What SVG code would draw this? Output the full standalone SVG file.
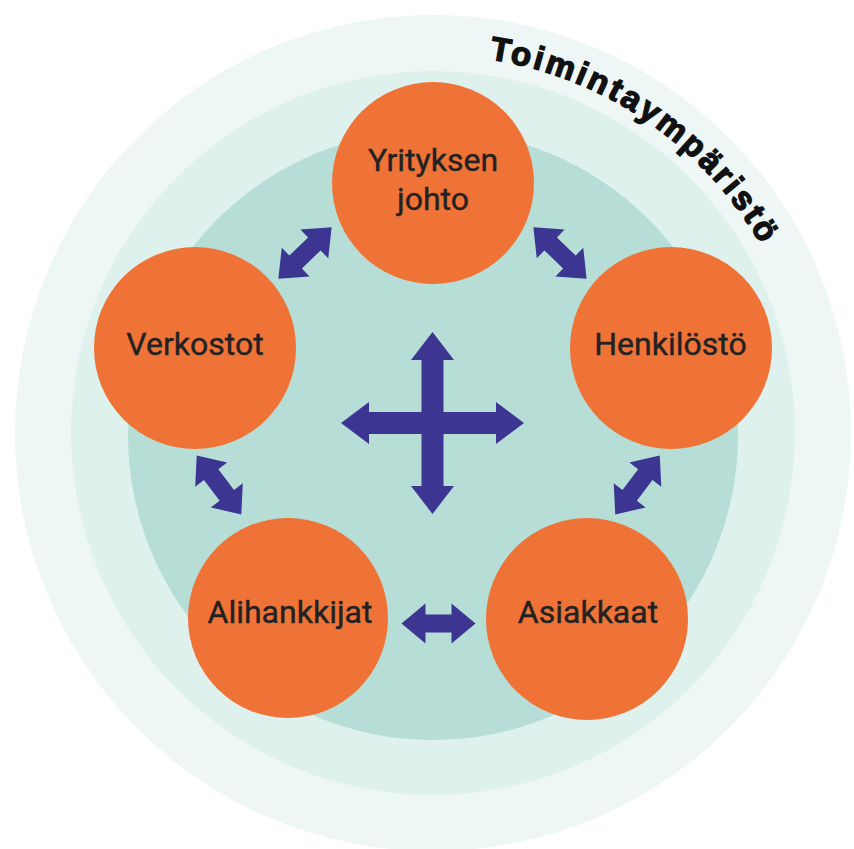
<svg xmlns="http://www.w3.org/2000/svg" width="854" height="849" viewBox="0 0 854 849">
  <style>
    .node { fill: #ef7337; }
    .label { font-family: Roboto, "Liberation Sans", sans-serif; font-weight: 400; font-size: 32px; fill: #222222; stroke: #222222; stroke-width: 0.4px; text-anchor: middle; }
    .arrow { fill: #3c3592; }
    .title { font-family: "Liberation Sans", Arial, sans-serif; font-weight: bold; font-size: 33px; fill: #111; stroke: #111; stroke-width: 1.4px; }
  </style>
  <defs>
    <path id="dbl" d="M -37 0 L -13 -20 L -13 -9 L 13 -9 L 13 -20 L 37 0 L 13 20 L 13 9 L -13 9 L -13 20 Z"/>
    <path id="titleArc" d="M 488.9 59.2 A 378 378 0 0 1 763.6 249.7"/>
  </defs>
  <rect width="854" height="849" fill="#ffffff"/>
  <g id="background">
    <circle cx="433" cy="433" r="418" fill="#eef7f6"/>
    <circle cx="433" cy="433" r="362" fill="#def1ed"/>
    <circle cx="433" cy="435" r="305" fill="#b6ded7"/>
  </g>
  <g id="title">
    <text class="title"><textPath href="#titleArc" textLength="340" lengthAdjust="spacing">Toimintaympäristö</textPath></text>
  </g>
  <g id="connectors">
    <use href="#dbl" class="arrow" transform="translate(305 253) rotate(-44)"/>
    <use href="#dbl" class="arrow" transform="translate(560 253) rotate(44)"/>
    <use href="#dbl" class="arrow" transform="translate(219 485) rotate(53)"/>
    <use href="#dbl" class="arrow" transform="translate(637.5 485) rotate(-53)"/>
    <use href="#dbl" class="arrow" transform="translate(438.5 623.5)"/>
    <path class="arrow" d="M 432.5 332 L 454 360 L 443.5 360 L 443.5 412 L 496 412 L 496 402 L 524 423 L 496 444 L 496 434 L 443.5 434 L 443.5 486 L 454 486 L 432.5 514 L 411 486 L 421.5 486 L 421.5 434 L 369 434 L 369 444 L 341 423 L 369 402 L 369 412 L 421.5 412 L 421.5 360 L 411 360 Z"/>
  </g>
  <g id="node-yrityksen-johto">
    <circle class="node" cx="433" cy="183" r="101"/>
    <text class="label" x="433" y="171">Yrityksen</text>
    <text class="label" x="433" y="210">johto</text>
  </g>
  <g id="node-verkostot">
    <circle class="node" cx="195" cy="348" r="101"/>
    <text class="label" x="195" y="355">Verkostot</text>
  </g>
  <g id="node-henkilosto">
    <circle class="node" cx="671" cy="348" r="101"/>
    <text class="label" x="670.5" y="355">Henkilöstö</text>
  </g>
  <g id="node-alihankkijat">
    <circle class="node" cx="288" cy="618" r="100"/>
    <text class="label" x="290" y="623">Alihankkijat</text>
  </g>
  <g id="node-asiakkaat">
    <circle class="node" cx="587" cy="619" r="101"/>
    <text class="label" x="588" y="623">Asiakkaat</text>
  </g>
</svg>
